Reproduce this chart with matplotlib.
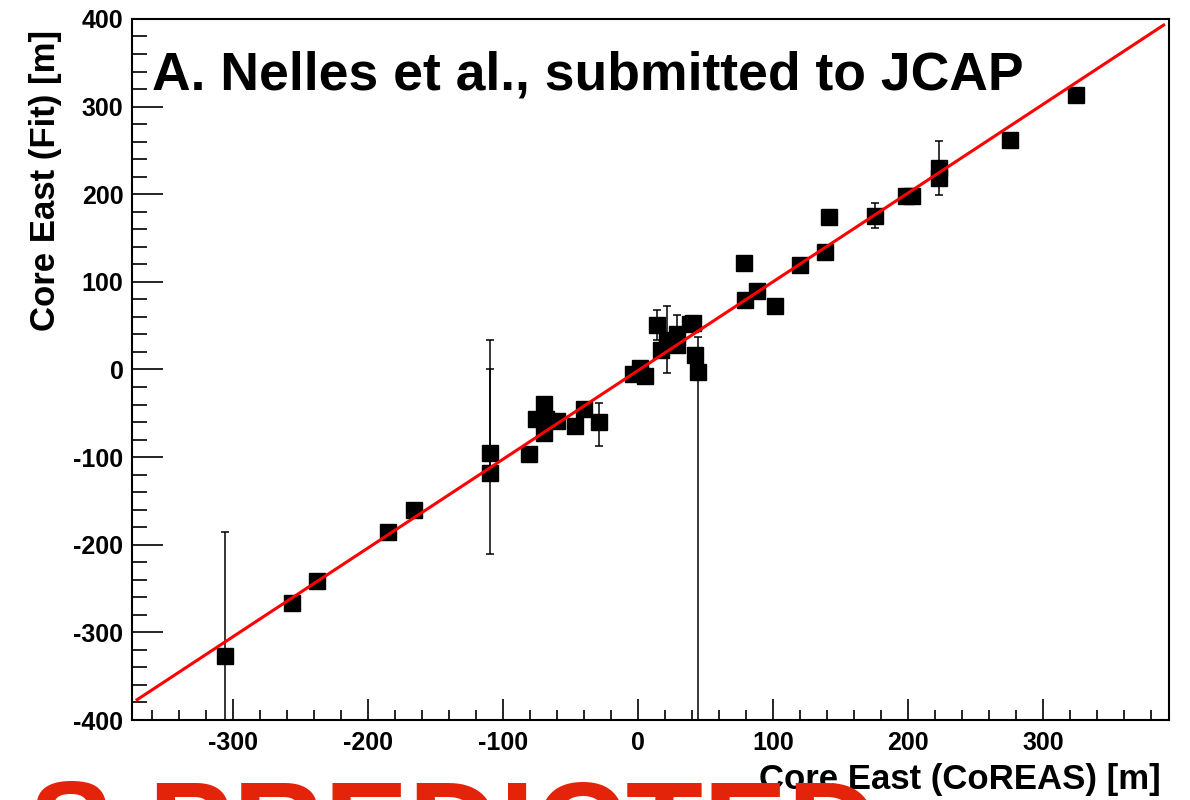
import numpy as np
import matplotlib
matplotlib.use("Agg")
import matplotlib.pyplot as plt
from matplotlib.ticker import MultipleLocator

# ---- data ----
core_coreas = [-306, -256, -238, -185, -166, -110, -110, -81, -76, -70,
               -68, -60, -70, -47, -40, -29, -4, 1.5, 5, 14,
               17, 21, 29, 29, 38.5, 40.5, 41.7, 44, 78, 79,
               88, 101.5, 120, 138.5, 141, 175.5, 198, 202.6, 222.5, 223,
               275, 324]
core_fit = [-327, -267, -241, -186, -160, -95, -118, -97, -57, -39,
            -56, -59, -73, -64, -45, -60, -5, 2, -8, 51,
            22, 34, 28, 41, 52, 53, 16.5, -2.5, 122, 79,
            89, 72, 119, 134, 174, 175, 198, 198, 218, 230,
            261.5, 313]
err_low = [142, 0, 0, 0, 0, 116, 0, 0, 0, 0,
           0, 0, 0, 0, 0, 27, 0, 0, 0, 17,
           0, 38, 0, 21, 0, 0, 0, 420, 0, 0,
           0, 0, 0, 0, 0, 14, 0, 0, 0, 31,
           0, 0]
err_high = [142, 0, 0, 0, 0, 129, 118, 0, 0, 0,
            0, 0, 0, 0, 0, 22, 0, 0, 0, 17,
            0, 38, 0, 21, 0, 0, 0, 40, 0, 0,
            0, 0, 0, 0, 0, 15, 0, 0, 0, 31,
            0, 0]

fit_slope = 1.013
fit_offset = -1.0
fit_range = [-371, 389]

title_text = "A. Nelles et al., submitted to JCAP"
stamp_text = "S PREDICTED"

plt.rcParams["font.family"] = ["Liberation Sans", "DejaVu Sans"]
plt.rcParams["font.weight"] = "bold"
plt.rcParams["axes.unicode_minus"] = False

fig = plt.figure(figsize=(11.9, 8), dpi=100)
ax = fig.add_axes([0.1107, 0.1, 0.8717, 0.8763])

# big red stamp behind everything, cut off at the bottom
fig.text(0.024, 0.028, stamp_text, color="#e3240b", fontsize=91,
         fontweight="bold", ha="left", va="top", zorder=0)

fx = np.array(fit_range, dtype=float)
ax.plot(fx, fit_slope * fx + fit_offset, color="#ff0000", lw=2.2, zorder=3)

ax.errorbar(core_coreas, core_fit, yerr=[err_low, err_high], fmt="s",
            color="black", ms=11, elinewidth=1.1, capsize=3, capthick=1.1,
            zorder=2)

ax.set_xlim(-375, 393)
ax.set_ylim(-400, 400)
ax.xaxis.set_major_locator(MultipleLocator(100))
ax.xaxis.set_minor_locator(MultipleLocator(20))
ax.yaxis.set_major_locator(MultipleLocator(100))
ax.yaxis.set_minor_locator(MultipleLocator(20))
ax.tick_params(axis="both", which="both", direction="in", width=1.2,
               labelsize=18)
ax.tick_params(axis="x", which="major", length=15, pad=8)
ax.tick_params(axis="x", which="minor", length=7.5)
ax.tick_params(axis="y", which="major", length=22, pad=6)
ax.tick_params(axis="y", which="minor", length=11)
for lab in ax.get_xticklabels() + ax.get_yticklabels():
    lab.set_fontweight("bold")
for sp in ax.spines.values():
    sp.set_linewidth(1.5)

ax.set_xlabel("Core East (CoREAS) [m]", fontsize=25, fontweight="bold",
              loc="right", labelpad=6)
ax.xaxis.label.set_x(0.992)
ax.set_ylabel("Core East (Fit) [m]", fontsize=25, fontweight="bold",
              loc="top", labelpad=8)
ax.yaxis.label.set_y(0.985)

ax.text(0.02, 0.955, title_text, transform=ax.transAxes, fontsize=38.5,
        fontweight="bold", ha="left", va="top")

fig.savefig("out.png", dpi=100)
